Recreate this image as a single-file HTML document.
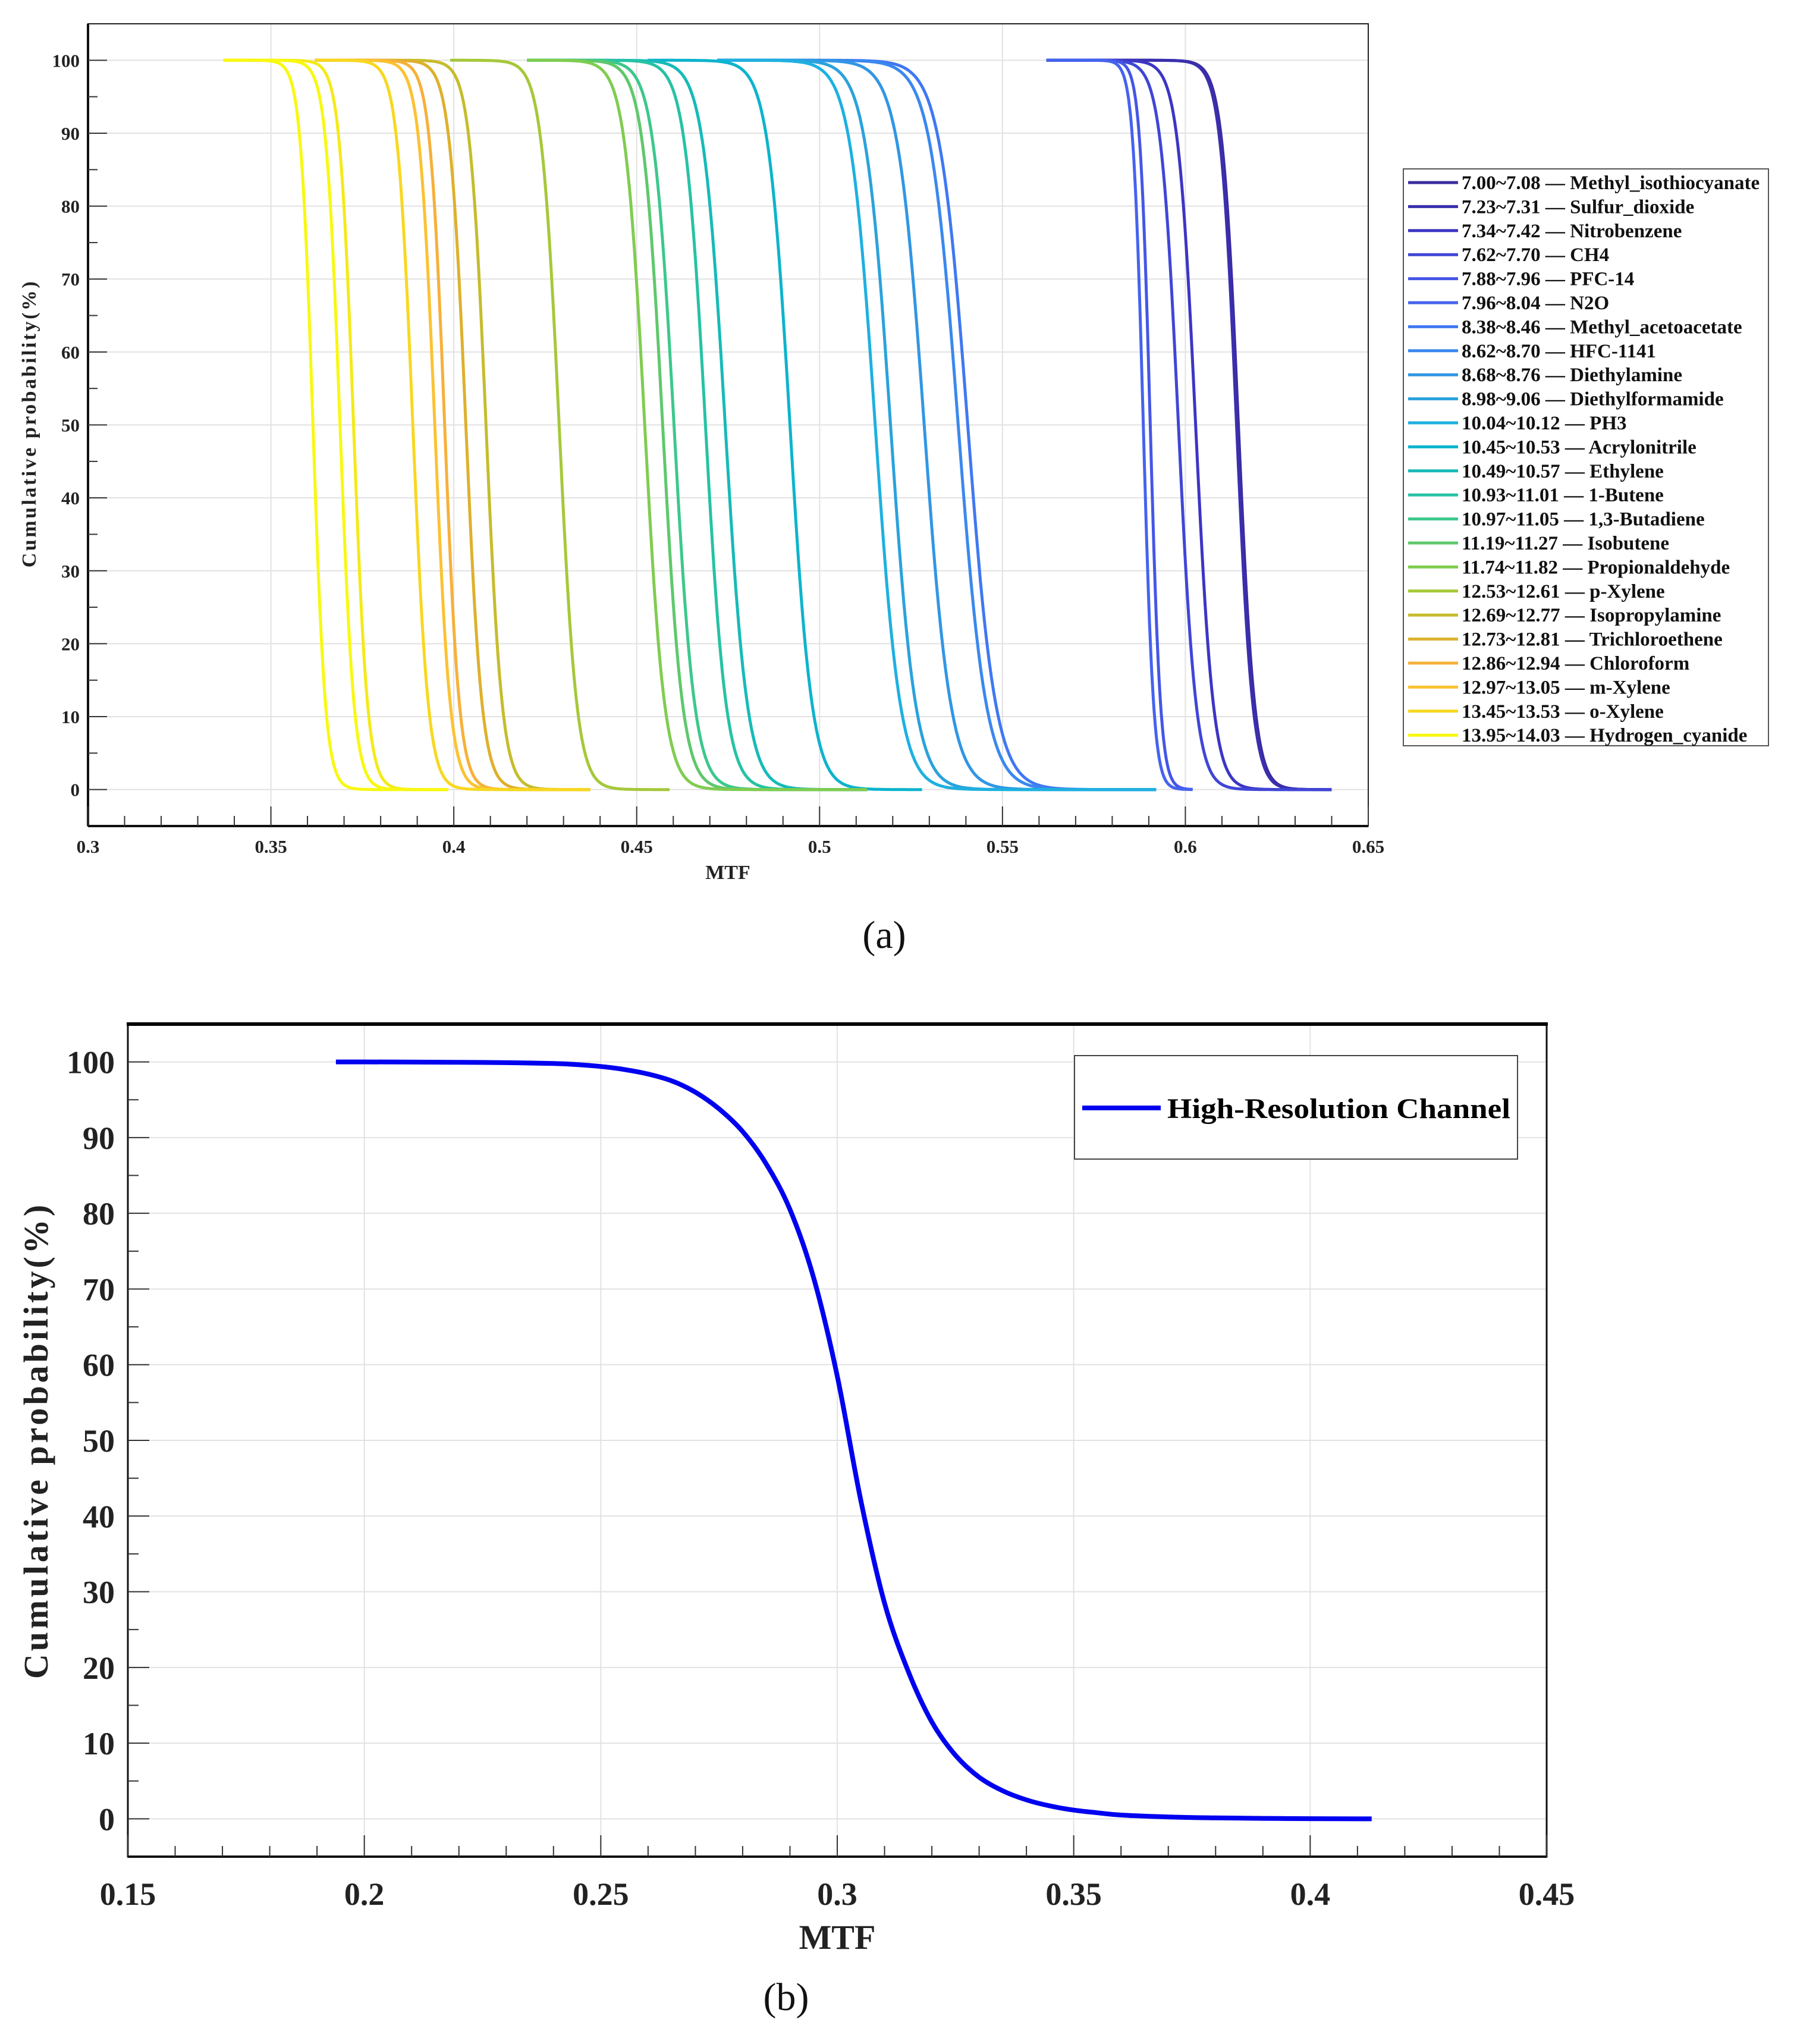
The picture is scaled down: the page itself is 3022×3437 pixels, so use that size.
<!DOCTYPE html>
<html><head><meta charset="utf-8"><style>
html,body{margin:0;padding:0;background:#fff}
svg{display:block;font-family:"Liberation Serif",serif}
</style></head><body>
<svg id="fig" width="3022" height="3437" viewBox="0 0 3022 3437" xmlns="http://www.w3.org/2000/svg">
<rect width="3022" height="3437" fill="#fff"/>
<g id="chartA"></g>
<g id="chartB"></g>
</svg>
<script>
// ---------- Chart (a) data ----------
const legendLabels = ["7.00~7.08 — Methyl_isothiocyanate","7.23~7.31 — Sulfur_dioxide","7.34~7.42 — Nitrobenzene","7.62~7.70 — CH4","7.88~7.96 — PFC-14","7.96~8.04 — N2O","8.38~8.46 — Methyl_acetoacetate","8.62~8.70 — HFC-1141","8.68~8.76 — Diethylamine","8.98~9.06 — Diethylformamide","10.04~10.12 — PH3","10.45~10.53 — Acrylonitrile","10.49~10.57 — Ethylene","10.93~11.01 — 1-Butene","10.97~11.05 — 1,3-Butadiene","11.19~11.27 — Isobutene","11.74~11.82 — Propionaldehyde","12.53~12.61 — p-Xylene","12.69~12.77 — Isopropylamine","12.73~12.81 — Trichloroethene","12.86~12.94 — Chloroform","12.97~13.05 — m-Xylene","13.45~13.53 — o-Xylene","13.67~13.75 — Acetylene","13.95~14.03 — Hydrogen_cyanide"];
const legendColors = ["#3a2ca0","#3b2fae","#3d35c4","#4046d6","#4556e6","#4563ee","#3f78f2","#3a88ee","#3196e4","#2aa2dc","#1eb0e0","#0cb4cc","#16bab8","#26c2a4","#3cc88c","#5ec86c","#80cc50","#a6c83a","#c6bc2c","#deb02c","#f6b03a","#fbc232","#f8d820","#f4ea18","#f8f810"];
const curveMid = [0.6145,0.6140,0.6028,0.5981,0.5904,0.5885,0.5405,0.5379,0.5286,0.5194,0.5152,0.4919,0.4742,0.4688,0.4602,0.4571,0.4522,0.4288,0.4088,0.4033,0.3975,0.3948,0.3888,0.3726,0.3689,0.3615];
const curveSpread = [0.0022,0.0022,0.0024,0.0024,0.0014,0.0014,0.0038,0.0038,0.0036,0.0034,0.0034,0.0030,0.0030,0.0028,0.0028,0.0027,0.0027,0.0024,0.0022,0.0022,0.0020,0.0021,0.0021,0.0019,0.0019,0.0017];
const curveStart = [0.562,0.562,0.562,0.562,0.562,0.562,0.472,0.472,0.472,0.472,0.472,0.453,0.420,0.420,0.420,0.420,0.420,0.399,0.362,0.362,0.362,0.362,0.362,0.337,0.337,0.337];
const curveEnd = [0.640,0.640,0.640,0.640,0.602,0.602,0.592,0.592,0.592,0.592,0.592,0.528,0.513,0.513,0.513,0.513,0.513,0.459,0.4373,0.4373,0.4373,0.4373,0.4373,0.3985,0.3985,0.3985];
const curveColorIdx = [0,1,2,3,4,5,6,7,8,9,10,11,12,13,14,15,16,17,18,19,20,21,22,23,24,24];
const xTicksA = ["0.3","0.35","0.4","0.45","0.5","0.55","0.6","0.65"];
const yTicksA = ["0","10","20","30","40","50","60","70","80","90","100"];

// ---------- Chart (b) data ----------
const hrX = [0.194,0.20,0.21,0.22,0.23,0.24,0.245,0.25,0.255,0.26,0.265,0.27,0.275,0.28,0.285,0.29,0.295,0.30,0.305,0.31,0.315,0.32,0.325,0.33,0.335,0.34,0.345,0.35,0.355,0.36,0.37,0.38,0.39,0.40,0.413];
const hrY = [100,100,99.98,99.95,99.9,99.8,99.65,99.4,99.0,98.4,97.5,96.0,93.8,90.8,86.5,80.5,71.5,58.5,42,28.5,19.5,12.8,8.4,5.5,3.7,2.5,1.7,1.15,0.8,0.5,0.25,0.12,0.06,0.02,0];
const xTicksB = ["0.15","0.2","0.25","0.3","0.35","0.4","0.45"];
const yTicksB = ["0","10","20","30","40","50","60","70","80","90","100"];

const NS="http://www.w3.org/2000/svg";
function mk(parent, tag, attrs, text){
  const el=document.createElementNS(NS,tag);
  for(const k in attrs) el.setAttribute(k,attrs[k]);
  if(text!==undefined) el.textContent=text;
  parent.appendChild(el); return el;
}
function smoothPath(pts){
  let d="M"+pts[0][0].toFixed(1)+","+pts[0][1].toFixed(1);
  for(let i=0;i<pts.length-1;i++){
    const p0=pts[i-1]||pts[i],p1=pts[i],p2=pts[i+1],p3=pts[i+2]||p2;
    const c1=[p1[0]+(p2[0]-p0[0])/6,p1[1]+(p2[1]-p0[1])/6];
    const c2=[p2[0]-(p3[0]-p1[0])/6,p2[1]-(p3[1]-p1[1])/6];
    d+=" C"+c1[0].toFixed(1)+","+c1[1].toFixed(1)+" "+c2[0].toFixed(1)+","+c2[1].toFixed(1)+" "+p2[0].toFixed(1)+","+p2[1].toFixed(1);
  }
  return d;
}

// ===== Chart A =====
(function(){
  const g=document.getElementById('chartA');
  const L=148,R=2301,T=40,B=1389, xmin=0.3,xmax=0.65, ymin=-5,ymax=105;
  const sx=v=>L+(v-xmin)/(xmax-xmin)*(R-L);
  const sy=v=>B-(v-ymin)/(ymax-ymin)*(B-T);
  xTicksA.forEach(t=>{const x=sx(+t);const l=mk(g,'line',{x1:x,x2:x,y1:T,y2:B,stroke:'#e2e2e2','stroke-width':2});
    
    });
  yTicksA.forEach(t=>{const y=sy(+t);const l=mk(g,'line',{x1:L,x2:R,y1:y,y2:y,stroke:'#e2e2e2','stroke-width':2});
    
    });
  for(let i=0;i<curveMid.length;i++){
    const pts=[];const n=200;
    for(let k=0;k<=n;k++){const x=curveStart[i]+(curveEnd[i]-curveStart[i])*k/n;
      const y=100/(1+Math.exp((x-curveMid[i])/curveSpread[i]));pts.push([sx(x),sy(y)]);}
    const p=mk(g,'polyline',{points:pts.map(q=>q[0].toFixed(1)+","+q[1].toFixed(1)).join(" "),fill:'none',stroke:legendColors[curveColorIdx[i]],'stroke-width':5,'stroke-linejoin':'round'});
    
    
  }
  const bx=mk(g,'rect',{x:L,y:T,width:R-L,height:B-T,fill:'none',stroke:'#222','stroke-width':2});
  
  
  mk(g,'line',{x1:L,x2:L,y1:T,y2:B,stroke:'#111','stroke-width':4});
  mk(g,'line',{x1:L,x2:R,y1:B,y2:B,stroke:'#111','stroke-width':4});
  for(let k=0;k<=35;k++){const v=xmin+k*0.01;const x=sx(v);const major=k%5===0;
    mk(g,'line',{x1:x,x2:x,y1:B,y2:B-(major?33:17),stroke:'#333','stroke-width':2});}
  xTicksA.forEach(t=>{const tx=mk(g,'text',{x:sx(+t),y:1434,'text-anchor':'middle','font-size':31,'font-weight':'bold',fill:'#222'},t);
    
    });
  for(let v=0;v<=100;v+=5){const y=sy(v);const major=v%10===0;
    mk(g,'line',{x1:L,x2:L+(major?32:16),y1:y,y2:y,stroke:'#333','stroke-width':2});}
  yTicksA.forEach(t=>{const tx=mk(g,'text',{x:134,y:sy(+t)+11,'text-anchor':'end','font-size':31,'font-weight':'bold',fill:'#222'},t);
    
    });
  const xt=mk(g,'text',{x:1224,y:1478,'text-anchor':'middle','font-size':34,'font-weight':'bold',fill:'#222'},'MTF');
  
  
  const yt=mk(g,'text',{x:0,y:0,transform:'translate(60,712) rotate(-90)','text-anchor':'middle','font-size':34,'font-weight':'bold',fill:'#222','letter-spacing':'3.5'},'Cumulative probability(%)');
  
  
  const lg=mk(g,'g',{});
  
  
  mk(lg,'rect',{x:2360,y:284,width:614,height:970,fill:'#fff',stroke:'#555','stroke-width':2});
  const entries=[];
  for(let i=0;i<legendLabels.length;i++){ if(i===23) continue; entries.push(i); }
  entries.forEach((i,r)=>{
    const y=307+r*40.4;
    const e=mk(lg,'g',{});
    
    
    mk(e,'line',{x1:2368,x2:2452,y1:y,y2:y,stroke:legendColors[i],'stroke-width':5});
    mk(e,'text',{x:2458,y:y+11,'font-size':33,'font-weight':'bold',fill:'#111'},legendLabels[i]);
  });
  const cap=mk(g,'text',{x:1487,y:1594,'text-anchor':'middle','font-size':66,fill:'#111'},'(a)');
  
  
})();

// ===== Chart B =====
(function(){
  const g=document.getElementById('chartB');
  const L=215,R=2601,T=1722,B=3122, xmin=0.15,xmax=0.45, ymin=-5,ymax=105;
  const sx=v=>L+(v-xmin)/(xmax-xmin)*(R-L);
  const sy=v=>B-(v-ymin)/(ymax-ymin)*(B-T);
  xTicksB.forEach(t=>{const x=sx(+t);const l=mk(g,'line',{x1:x,x2:x,y1:T,y2:B,stroke:'#e2e2e2','stroke-width':2});
    
    });
  yTicksB.forEach(t=>{const y=sy(+t);const l=mk(g,'line',{x1:L,x2:R,y1:y,y2:y,stroke:'#e2e2e2','stroke-width':2});
    
    });
  const pts=hrX.map((x,i)=>[sx(x),sy(hrY[i])]);
  const c=mk(g,'path',{d:smoothPath(pts),fill:'none',stroke:'#0000f0','stroke-width':8,'stroke-linejoin':'round'});
  
  
  const bx=mk(g,'rect',{x:L,y:T,width:R-L,height:B-T,fill:'none',stroke:'#111','stroke-width':3});
  
  
  mk(g,'line',{x1:L-2,x2:R+2,y1:T,y2:T,stroke:'#000','stroke-width':6});
  mk(g,'line',{x1:L,x2:R,y1:B,y2:B,stroke:'#111','stroke-width':4});
  for(let k=0;k<=30;k++){const x=sx(xmin+k*0.01);const major=k%5===0;
    mk(g,'line',{x1:x,x2:x,y1:B,y2:B-(major?36:18),stroke:'#333','stroke-width':2});}
  xTicksB.forEach(t=>{const tx=mk(g,'text',{x:sx(+t),y:3203,'text-anchor':'middle','font-size':54,'font-weight':'bold',fill:'#222'},t);
    
    });
  for(let v=0;v<=100;v+=5){const y=sy(v);const major=v%10===0;
    mk(g,'line',{x1:L,x2:L+(major?36:18),y1:y,y2:y,stroke:'#333','stroke-width':2});}
  yTicksB.forEach(t=>{const tx=mk(g,'text',{x:193,y:sy(+t)+19,'text-anchor':'end','font-size':54,'font-weight':'bold',fill:'#222'},t);
    
    });
  const xt=mk(g,'text',{x:1408,y:3277,'text-anchor':'middle','font-size':58,'font-weight':'bold',fill:'#222'},'MTF');
  
  
  const yt=mk(g,'text',{x:0,y:0,transform:'translate(80,2422) rotate(-90)','text-anchor':'middle','font-size':58,'font-weight':'bold',fill:'#222','letter-spacing':'5'},'Cumulative probability(%)');
  
  
  const lg=mk(g,'g',{});
  
  
  mk(lg,'rect',{x:1807,y:1775,width:745,height:174,fill:'#fff',stroke:'#444','stroke-width':2});
  mk(lg,'line',{x1:1820,x2:1952,y1:1863,y2:1863,stroke:'#0000f0','stroke-width':8});
  mk(lg,'text',{x:1963,y:1880,'font-size':48,'font-weight':'bold',fill:'#000',textLength:577,lengthAdjust:'spacingAndGlyphs'},'High-Resolution Channel');
  const cap=mk(g,'text',{x:1322,y:3380,'text-anchor':'middle','font-size':66,fill:'#111'},'(b)');
  
  
})();
</script>
</body></html>
